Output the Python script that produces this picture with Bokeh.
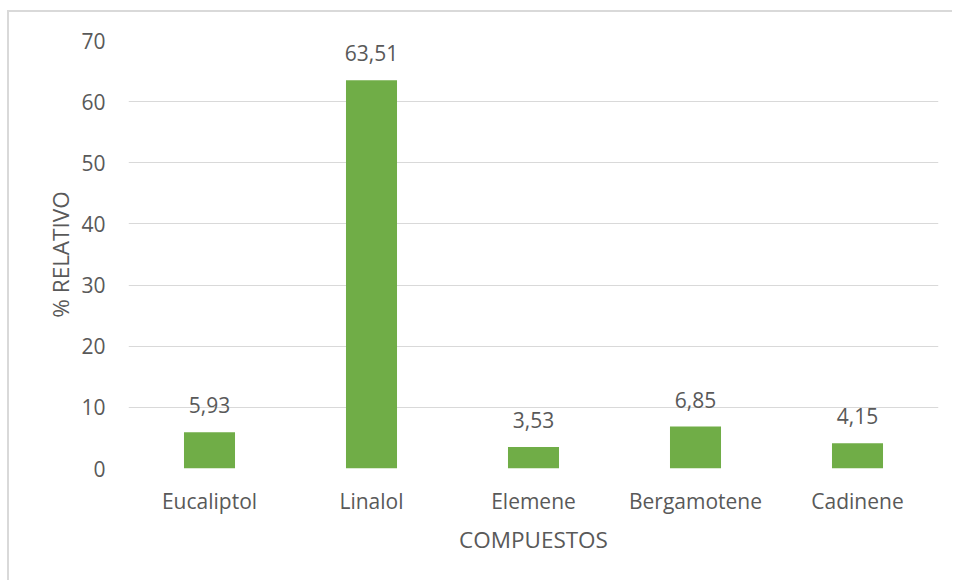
from bokeh.plotting import figure
from bokeh.models import ColumnDataSource, FixedTicker
from bokeh.core.properties import value
from bokeh.embed import file_html
from bokeh.resources import INLINE

categories = ["Eucaliptol", "Linalol", "Elemene", "Bergamotene", "Cadinene"]
values = [5.93, 63.51, 3.53, 6.85, 4.15]
y_ticks = [0, 10, 20, 30, 40, 50, 60, 70]

labels = [f"{v:.2f}".replace(".", ",") for v in values]
src = ColumnDataSource(dict(cat=categories, val=values, lab=labels))

FONT = "Open Sans"
TXT = "#595959"

p = figure(x_range=categories, y_range=(0, 70), width=945, height=570,
           output_backend="svg", toolbar_location=None,
           min_border_left=119, min_border_right=16, min_border_top=28, min_border_bottom=114)
p.styles = {"margin-left": "7px", "margin-top": "10px",
            "border-left": "2px solid #d9d9d9", "border-top": "2px solid #d9d9d9",
            "box-sizing": "border-box"}
p.outline_line_color = None
p.background_fill_color = "white"

p.vbar(x="cat", top="val", width=0.315, source=src, color="#70AD47", line_color=None)
p.text(x="cat", y="val", text="lab", source=src, text_align="center", text_baseline="bottom",
       y_offset=-19, text_font=value(FONT), text_font_size="21px", text_color=TXT)

p.yaxis.ticker = FixedTicker(ticks=y_ticks)
p.ygrid.grid_line_color = "#d9d9d9"
p.ygrid.grid_line_width = 1
p.xgrid.grid_line_color = None

for ax in (p.xaxis[0], p.yaxis[0]):
    ax.axis_line_color = None
    ax.major_tick_line_color = None
    ax.minor_tick_line_color = None
    ax.major_label_text_font = FONT
    ax.major_label_text_font_size = "21px"
    ax.major_label_text_color = TXT
    ax.axis_label_text_font = FONT
    ax.axis_label_text_font_size = "22.5px"
    ax.axis_label_text_font_style = "normal"
    ax.axis_label_text_color = TXT

p.xaxis.axis_label = "COMPUESTOS"
p.yaxis.axis_label = "% RELATIVO"
p.xaxis.major_label_standoff = 12
p.yaxis.major_label_standoff = 17
p.xaxis.axis_label_standoff = 6
p.yaxis.axis_label_standoff = 2

open("out.html", "w").write(file_html(p, INLINE))
